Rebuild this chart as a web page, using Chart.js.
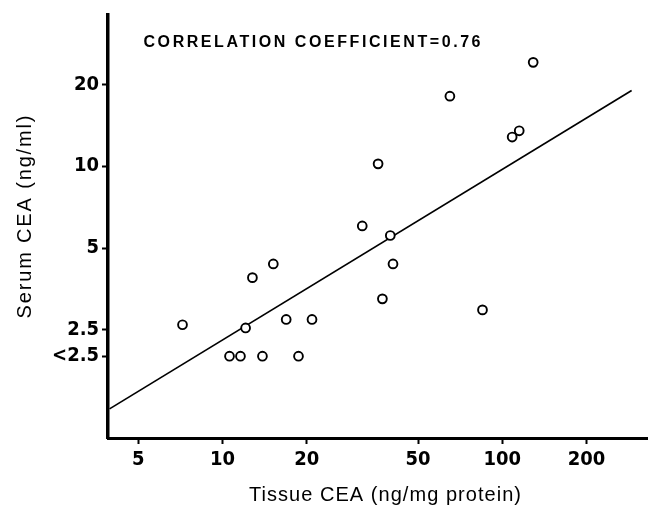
<!DOCTYPE html>
<html>
<head>
<meta charset="utf-8">
<script src="https://cdn.jsdelivr.net/npm/chart.js@4"></script>
<style>
  html, body { margin: 0; padding: 0; background: #fff; }
  #wrap { width: 654px; height: 509px; }
</style>
</head>
<body>
<div id="wrap"><canvas id="chart" width="654" height="509"></canvas></div>
<script>
// values (log-log plot)
const tissueCEA = [129, 65, 115, 108.5, 36, 15.2, 12.8, 7.2, 12.1, 16.9, 20.9, 10.6, 11.6, 13.9, 18.7, 31.6, 39.8, 40.7, 37.3, 85];
const serumCEA = [24.1, 18.1, 13.5, 12.8, 10.2, 4.37, 3.89, 2.61, 2.54, 2.73, 2.73, 2.0, 2.0, 2.0, 2.0, 6.03, 5.56, 4.37, 3.25, 2.96];

// regression line end points
const lineX = [3.95, 290];
const lineY = [1.28, 19.0];

const xTicks = [5, 10, 20, 50, 100, 200];
const yTicks = [2, 2.5, 5, 10, 20];
const yTickLabels = ["<2.5", "2.5", "5", "10", "20"];

const annotation = "CORRELATION COEFFICIENT=0.76";
const xTitle = "Tissue CEA (ng/mg protein)";
const yTitle = "Serum CEA (ng/ml)";

const tickFont = { family: "'Liberation Sans Narrow', 'DejaVu Sans Condensed', 'Liberation Sans', sans-serif", size: 20, weight: "bold" };
const textFamily = "'Liberation Sans', Arial, sans-serif";

// draw text stretched to a given width with letter spacing
function drawSpaced(ctx, text, cx, cy, width, font) {
    ctx.font = font;
    ctx.letterSpacing = "0px";
    const natural = ctx.measureText(text).width;
    const spacing = (width - natural) / (text.length - 1);
    ctx.letterSpacing = spacing + "px";
    ctx.textAlign = "left";
    ctx.textBaseline = "middle";
    ctx.fillText(text, cx - width / 2, cy);
    ctx.letterSpacing = "0px";
}

const textPlugin = {
    id: "textPlugin",
    afterDraw(chart) {
        const ctx = chart.ctx;
        ctx.save();
        ctx.fillStyle = "#000";
        drawSpaced(ctx, annotation, 312, 43, 337, "bold 16px " + textFamily);
        drawSpaced(ctx, xTitle, 385, 495, 272, "20px " + textFamily);

        ctx.translate(25, 217);
        ctx.rotate(-Math.PI / 2);
        drawSpaced(ctx, yTitle, 0, 0, 203, "20px " + textFamily);
        ctx.restore();
    }
};

const ctx = document.getElementById("chart").getContext("2d");

new Chart(ctx, {
    data: {
        datasets: [
            {
                type: "scatter",
                data: tissueCEA.map((x, i) => ({ x: x, y: serumCEA[i] })),
                pointStyle: "circle",
                pointRadius: 4.4,
                pointBackgroundColor: "#fff",
                pointBorderColor: "#000",
                pointBorderWidth: 1.9,
                order: 0
            },
            {
                type: "line",
                data: lineX.map((x, i) => ({ x: x, y: lineY[i] })),
                borderColor: "#000",
                borderWidth: 1.7,
                pointRadius: 0,
                fill: false,
                order: 1
            }
        ]
    },
    options: {
        responsive: false,
        animation: false,
        events: [],
        layout: {
            padding: { top: 8, right: 6, left: 0, bottom: 0 }
        },
        plugins: {
            legend: { display: false },
            tooltip: { enabled: false }
        },
        scales: {
            x: {
                type: "logarithmic",
                min: 3.9,
                max: 331,
                afterFit: scale => { scale.height = 71; },
                afterBuildTicks: scale => { scale.ticks = xTicks.map(v => ({ value: v })); },
                ticks: {
                    color: "#000",
                    font: tickFont,
                    padding: 4,
                    maxRotation: 0,
                    autoSkip: false,
                    callback: value => String(value)
                },
                grid: {
                    drawOnChartArea: false,
                    drawTicks: true,
                    tickLength: 6,
                    tickWidth: 2,
                    tickColor: "#000"
                },
                border: { display: true, color: "#000", width: 3 }
            },
            y: {
                type: "logarithmic",
                min: 1.0,
                max: 36,
                afterFit: scale => { scale.width = 108; },
                afterBuildTicks: scale => { scale.ticks = yTicks.map(v => ({ value: v })); },
                ticks: {
                    color: "#000",
                    font: tickFont,
                    padding: 3,
                    autoSkip: false,
                    callback: value => yTickLabels[yTicks.indexOf(value)]
                },
                grid: {
                    drawOnChartArea: false,
                    drawTicks: true,
                    tickLength: 6,
                    tickWidth: 2,
                    tickColor: "#000"
                },
                border: { display: true, color: "#000", width: 3.5 }
            }
        }
    },
    plugins: [textPlugin]
});
</script>
</body>
</html>
